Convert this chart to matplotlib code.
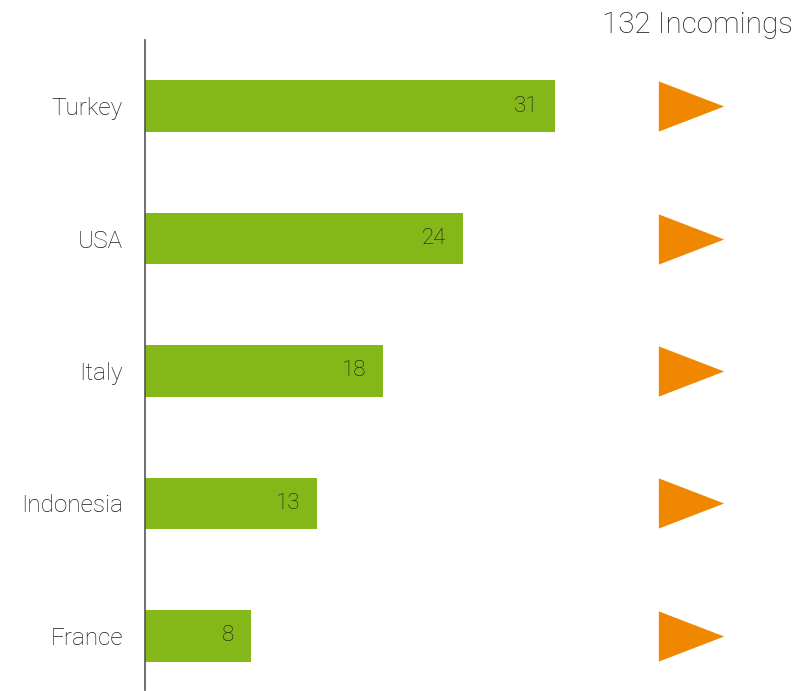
import matplotlib.pyplot as plt

countries = ['Turkey', 'USA', 'Italy', 'Indonesia', 'France']
incomings = [31, 24, 18, 13, 8]
total_label = '132 Incomings'

GREEN = '#84B819'
ORANGE = '#F08700'
TEXT = '#1a1a1a'

plt.rcParams['font.family'] = ['Roboto', 'DejaVu Sans']
plt.rcParams['font.weight'] = 'light'

fig = plt.figure(figsize=(7.96, 6.91), dpi=100)
ax = fig.add_axes([145 / 796, 1 / 691, 651 / 796, 650 / 691])

pos = list(range(len(countries)))
ax.barh(pos, incomings, height=0.39, color=GREEN)
for y, v in zip(pos, incomings):
    ax.annotate(str(v), (v, y), xytext=(-12, 0), textcoords='offset points',
                ha='right', va='center', fontsize=16, color=TEXT)

# arrow column
arrow = [(-0.65, -0.5), (-0.65, 0.5), (0.65, 0)]
ax.scatter([41.3] * len(pos), pos, marker=arrow, s=47 ** 2, color=ORANGE,
           linewidths=0, clip_on=False)

ax.set_xlim(0, 49.2)
ax.set_ylim(4.41, -0.5)
ax.set_yticks(pos)
ax.set_yticklabels(countries, fontsize=17.5, color=TEXT)
ax.tick_params(axis='y', length=0, pad=16)
ax.set_xticks([])
for s in ['top', 'right', 'bottom']:
    ax.spines[s].set_visible(False)
ax.spines['left'].set_color('#555555')
ax.spines['left'].set_linewidth(1.2)

fig.text(793 / 796, 1 - 25 / 691, total_label, ha='right', va='center',
         fontsize=21.3, color=TEXT)

fig.savefig('out.png', dpi=100)
